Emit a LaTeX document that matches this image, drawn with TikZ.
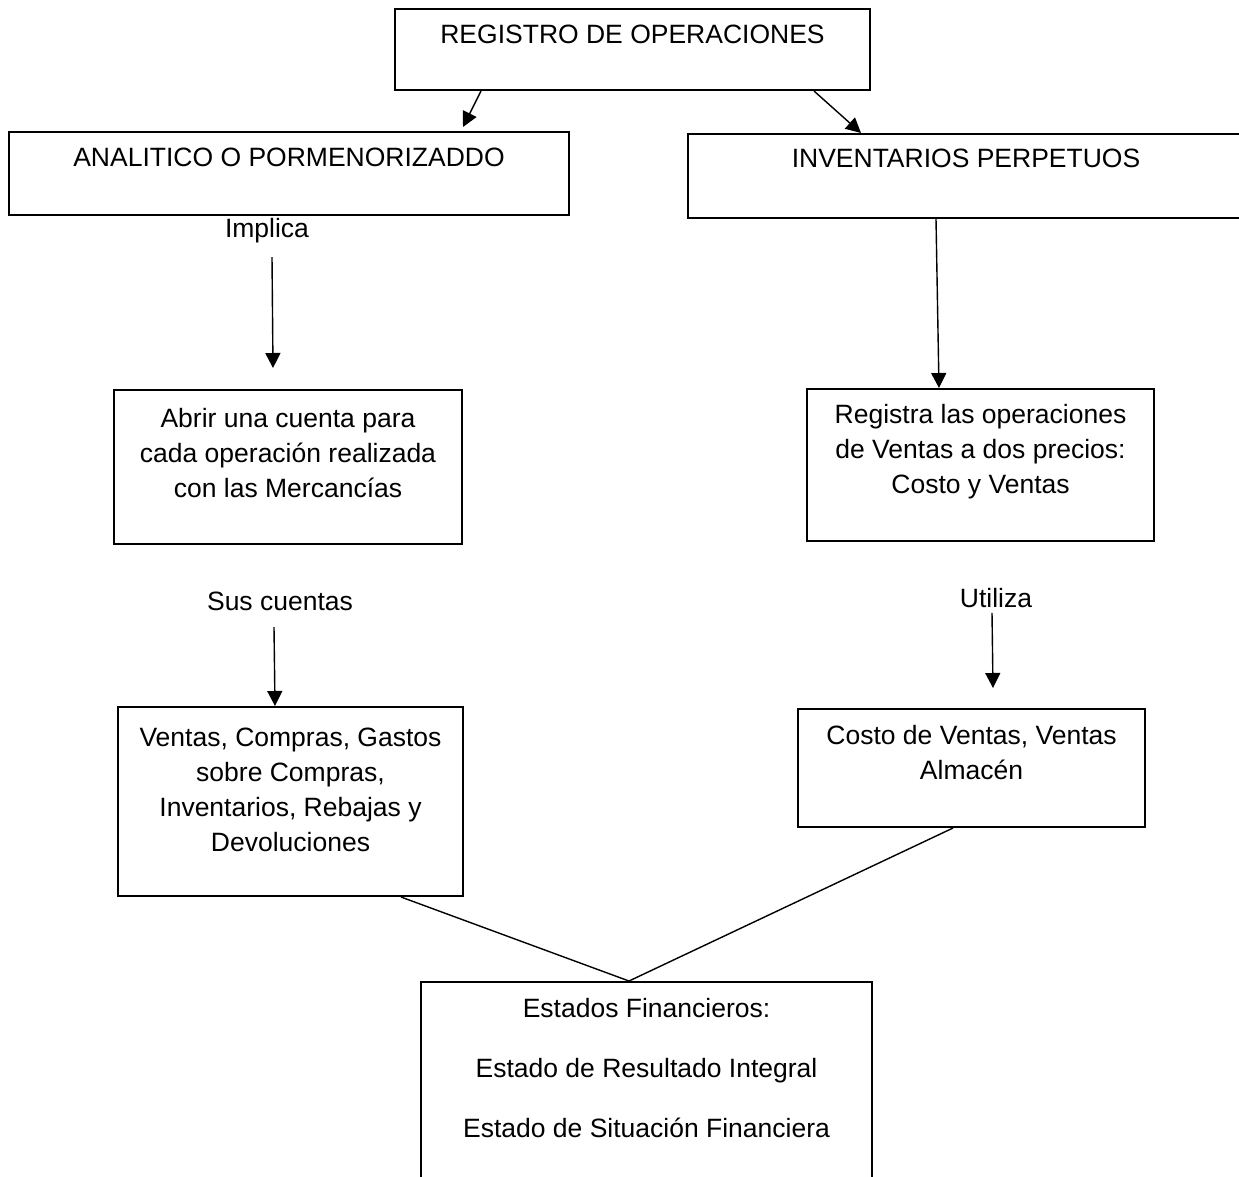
\documentclass[tikz,border=0pt]{standalone}
\usepackage{fontspec}
\setmainfont{Liberation Sans}
\usetikzlibrary{arrows.meta,positioning}

\tikzset{
  caja/.style={draw, line width=2pt, anchor=north west, inner sep=0pt},
  texto/.style={font=\fontsize{26.5}{35}\selectfont, align=center, inner sep=0pt, anchor=north},
  flecha/.style={-{Triangle[length=15pt,width=15pt]}, line width=1.4pt},
  linea/.style={line width=1.4pt},
}

\begin{document}
\begin{tikzpicture}[x=1pt,y=-1pt]
  \useasboundingbox (0,0) rectangle (1239,1176);
  \clip (0,0) rectangle (1239,1176);

  % cajas
  \node[caja, minimum width=475pt, minimum height=81pt] (reg) at (394,8) {};
  \node[caja, minimum width=560pt, minimum height=83pt] (analit) at (8,131) {};
  \node[caja, minimum width=556pt, minimum height=84pt] (inv) at (687,133) {};
  \node[caja, minimum width=348pt, minimum height=154pt] (abrir) at (113,389) {};
  \node[caja, minimum width=347pt, minimum height=152pt] (regis) at (806,388) {};
  \node[caja, minimum width=345pt, minimum height=189pt] (ventas) at (117,706) {};
  \node[caja, minimum width=347pt, minimum height=118pt] (costo) at (797,708) {};
  \node[caja, minimum width=451pt, minimum height=220pt] (estados) at (420,981) {};

  % textos de las cajas
  \node[texto, below=17pt of reg.north] {REGISTRO DE OPERACIONES};
  \node[texto, below=17pt of analit.north] {ANALITICO O PORMENORIZADDO};
  \node[texto, below=16pt of inv.north] {INVENTARIOS PERPETUOS};
  \node[texto, below=19pt of abrir.north] {Abrir una cuenta para\\cada operación realizada\\con las Mercancías};
  \node[texto, below=16pt of regis.north] {Registra las operaciones\\de Ventas a dos precios:\\Costo y Ventas};
  \node[texto, below=22pt of ventas.north] {Ventas, Compras, Gastos\\sobre Compras,\\Inventarios, Rebajas y\\Devoluciones};
  \node[texto, below=17pt of costo.north] {Costo de Ventas, Ventas\\Almacén};
  \node[texto, below=17pt of estados.north] {Estados Financieros:\\[25pt]Estado de Resultado Integral\\[25pt]Estado de Situación Financiera};

  % etiquetas
  \node[texto] (implica) at (267,218) {Implica};
  \node[texto] (sus) at (280,592) {Sus cuentas};
  \node[texto] (utiliza) at (996,588) {Utiliza};

  % flechas
  \draw[flecha] ([xshift=-151.5pt]reg.south) -- ([xshift=174pt,yshift=4pt]analit.north);
  \draw[flecha] ([xshift=181.5pt]reg.south) -- ([xshift=-105pt]inv.north);
  \draw[flecha] ([xshift=-30pt]inv.south) -- ([xshift=-41.5pt]regis.north);
  \draw[flecha] ([xshift=5pt,yshift=-14pt]implica.south) -- ([xshift=-15pt,yshift=21pt]abrir.north);
  \draw[flecha] ([xshift=-6pt,yshift=-16pt]sus.south) -- ([xshift=-15.5pt]ventas.north);
  \draw[flecha] ([xshift=-4pt,yshift=-5pt]utiliza.south) -- ([xshift=21.5pt,yshift=20pt]costo.north);

  % lineas hacia los estados financieros
  \draw[linea] ([xshift=110.5pt]ventas.south) -- ([xshift=-17.5pt]estados.north);
  \draw[linea] ([xshift=-18.5pt]costo.south) -- ([xshift=-17.5pt]estados.north);
\end{tikzpicture}
\end{document}
